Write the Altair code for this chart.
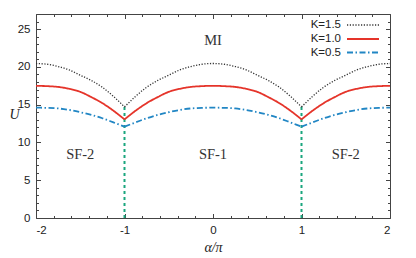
import altair as alt
import pandas as pd

# ---- data ----
alpha = [-2.0, -1.875, -1.75, -1.625, -1.5, -1.375, -1.25, -1.125, -1.0,
         -0.875, -0.75, -0.625, -0.5, -0.375, -0.25, -0.125, 0.0,
         0.125, 0.25, 0.375, 0.5, 0.625, 0.75, 0.875, 1.0,
         1.125, 1.25, 1.375, 1.5, 1.625, 1.75, 1.875, 2.0]

u_k15 = [20.45, 20.35, 20.05, 19.6, 18.9, 18.2, 17.3, 16.1, 14.7,
         16.1, 17.3, 18.2, 18.9, 19.6, 20.05, 20.35, 20.45,
         20.35, 20.05, 19.6, 18.9, 18.2, 17.3, 16.1, 14.7,
         16.1, 17.3, 18.2, 18.9, 19.6, 20.05, 20.35, 20.45]

u_k10 = [17.5, 17.45, 17.35, 17.1, 16.7, 16.0, 15.2, 14.2, 13.05,
         14.2, 15.2, 16.0, 16.7, 17.1, 17.35, 17.45, 17.5,
         17.45, 17.35, 17.1, 16.7, 16.0, 15.2, 14.2, 13.05,
         14.2, 15.2, 16.0, 16.7, 17.1, 17.35, 17.45, 17.5]

u_k05 = [14.6, 14.58, 14.5, 14.3, 14.0, 13.65, 13.2, 12.65, 12.1,
         12.65, 13.2, 13.65, 14.0, 14.3, 14.5, 14.58, 14.6,
         14.58, 14.5, 14.3, 14.0, 13.65, 13.2, 12.65, 12.1,
         12.65, 13.2, 13.65, 14.0, 14.3, 14.5, 14.58, 14.6]

series_labels = ["K=1.5", "K=1.0", "K=0.5"]
series_values = [u_k15, u_k10, u_k05]

boundary_alpha = [-1, 1]
boundary_top = [14.7, 14.7]

region_labels = ["MI", "SF-2", "SF-1", "SF-2"]
region_alpha = [0, -1.5, 0, 1.5]
region_U = [23.4, 8.4, 8.4, 8.4]

x_major = [-2, -1, 0, 1, 2]
x_minor = [-1.8, -1.6, -1.4, -1.2, -0.8, -0.6, -0.4, -0.2,
           0.2, 0.4, 0.6, 0.8, 1.2, 1.4, 1.6, 1.8]
y_major = [0, 5, 10, 15, 20, 25]
y_minor = [1, 2, 3, 4, 6, 7, 8, 9, 11, 12, 13, 14, 16, 17, 18, 19,
           21, 22, 23, 24, 26, 27]

# ---- styles ----
colors = ["#333333", "#e5342a", "#2186c4"]
dashes = [[1.2, 1.6], [1, 0], [6, 2.5, 1.5, 2.5]]
widths = [1.3, 1.8, 1.8]
legend_y = [11, 25, 38.5]

W, H = 354, 204
xscale = alt.Scale(domain=[-2, 2], nice=False, zero=False)
yscale = alt.Scale(domain=[0, 27], nice=False, zero=True)
SANS = "Liberation Sans"
SERIF = "Liberation Serif"

main_x_axis = alt.Axis(values=x_major, labelExpr="datum.value + ''", ticks=False,
                       domain=False, grid=False, labelFont=SANS, labelFontSize=11.5,
                       labelColor="#222", labelPadding=6, title="α/π", titleFont=SERIF,
                       titleFontStyle="italic", titleFontWeight="normal", titleFontSize=14,
                       titleColor="#222", titleY=29, titleBaseline="middle", orient="bottom")
main_y_axis = alt.Axis(values=y_major, ticks=False, domain=False, grid=False,
                       labelFont=SANS, labelFontSize=11.5, labelColor="#222", labelPadding=6,
                       title="U", titleFont=SERIF, titleFontStyle="italic",
                       titleFontWeight="normal", titleFontSize=14, titleColor="#222",
                       titleAngle=0, titleX=-22, titleY=100, titleAlign="center",
                       titleBaseline="middle", orient="left")

layers = []

# boundaries
bdf = pd.DataFrame({"alpha": boundary_alpha, "lo": [0, 0], "hi": boundary_top})
layers.append(
    alt.Chart(bdf).mark_rule(color="#1aa67e", strokeWidth=2, strokeDash=[3, 3]).encode(
        x=alt.X("alpha:Q", scale=xscale, axis=main_x_axis),
        y=alt.Y("lo:Q", scale=yscale, axis=main_y_axis),
        y2="hi:Q",
    )
)

# curves
for i, (lab, vals) in enumerate(zip(series_labels, series_values)):
    rows = []
    for a, u in zip(alpha, vals):
        segs = []
        if a <= -1:
            segs.append("L")
        if -1 <= a <= 1:
            segs.append("M")
        if a >= 1:
            segs.append("R")
        for s in segs:
            rows.append({"alpha": a, "U": u, "seg": s})
    df = pd.DataFrame(rows)
    layers.append(
        alt.Chart(df).mark_line(color=colors[i], strokeWidth=widths[i],
                                strokeDash=dashes[i], interpolate="monotone").encode(
            x=alt.X("alpha:Q", scale=xscale, axis=None),
            y=alt.Y("U:Q", scale=yscale, axis=None),
            detail="seg:N",
        )
    )

# region labels
rdf = pd.DataFrame({"alpha": region_alpha, "U": region_U, "label": region_labels})
layers.append(
    alt.Chart(rdf).mark_text(font=SERIF, fontSize=14.5, color="#333").encode(
        x=alt.X("alpha:Q", scale=xscale, axis=None),
        y=alt.Y("U:Q", scale=yscale, axis=None),
        text="label:N",
    )
)

# tick-only axes (inward ticks)
tdf = pd.DataFrame({"alpha": [-2, 2], "U": [0, 27]})
def tick_layer(xaxis, yaxis):
    return alt.Chart(tdf).mark_point(opacity=0).encode(
        x=alt.X("alpha:Q", scale=xscale, axis=xaxis),
        y=alt.Y("U:Q", scale=yscale, axis=yaxis),
    )

def tick_axis(orient, values, size):
    return alt.Axis(orient=orient, values=values, tickSize=size, offset=-size,
                    labels=False, domain=False, grid=False, title=None,
                    tickColor="#444", tickWidth=1)

layers.append(tick_layer(tick_axis("bottom", x_major, 4.5), tick_axis("left", y_major, 4.5)))
layers.append(tick_layer(tick_axis("bottom", x_minor, 2.5), tick_axis("left", y_minor, 2.5)))
layers.append(tick_layer(tick_axis("top", x_major, 4.5), tick_axis("right", y_major, 4.5)))
layers.append(tick_layer(tick_axis("top", x_minor, 2.5), tick_axis("right", y_minor, 2.5)))

# legend
for i, lab in enumerate(series_labels):
    ldf = pd.DataFrame({"label": [lab]})
    layers.append(
        alt.Chart(ldf).mark_text(font=SANS, fontSize=11.5, color="#222", align="right",
                                 baseline="middle").encode(
            x=alt.value(305), y=alt.value(legend_y[i]), text="label:N")
    )
    layers.append(
        alt.Chart(ldf).mark_rule(color=colors[i], strokeWidth=widths[i],
                                 strokeDash=dashes[i]).encode(
            x=alt.value(311), x2=alt.value(343), y=alt.value(legend_y[i]))
    )

chart = alt.layer(*layers).resolve_axis(x="independent", y="independent").properties(
    width=W, height=H,
    autosize=alt.AutoSizeParams(type="none"),
    padding={"left": 28, "top": 6, "right": 10, "bottom": 36},
    background="white",
).configure_view(stroke="#444", strokeWidth=1)

chart.save("out.html", embed_options={"renderer": "svg", "actions": False})
